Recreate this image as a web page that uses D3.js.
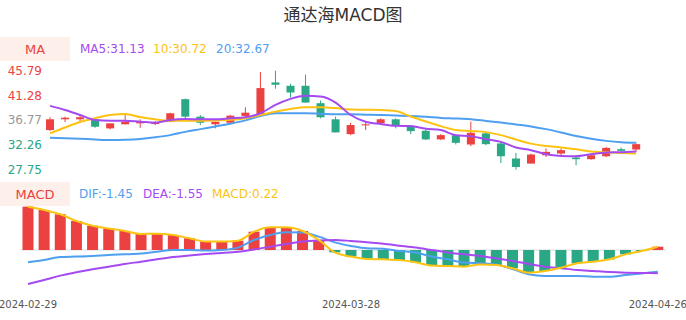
<!DOCTYPE html>
<html>
<head>
<meta charset="utf-8">
<script src="https://cdn.jsdelivr.net/npm/d3@7"></script>
<style>
  body { margin: 0; background: #fff; }
  svg { display: block; font-family: "DejaVu Sans", "Noto Sans CJK SC", sans-serif; }
</style>
</head>
<body>
<svg id="chart"></svg>
<script>
// chart size
const W = 686, H = 320;

// trading days
const dates = ["2024-02-29","2024-03-01","2024-03-04","2024-03-05","2024-03-06","2024-03-07","2024-03-08",
  "2024-03-11","2024-03-12","2024-03-13","2024-03-14","2024-03-15","2024-03-18","2024-03-19","2024-03-20",
  "2024-03-21","2024-03-22","2024-03-25","2024-03-26","2024-03-27","2024-03-28","2024-03-29","2024-04-01",
  "2024-04-02","2024-04-03","2024-04-08","2024-04-09","2024-04-10","2024-04-11","2024-04-12","2024-04-15",
  "2024-04-16","2024-04-17","2024-04-18","2024-04-19","2024-04-22","2024-04-23","2024-04-24","2024-04-25","2024-04-26"];

// candles
const open  = [34.93,36.90,36.90,36.90,35.24,35.98,36.16,36.03,36.46,40.58,37.38,35.98,36.27,37.51,37.87,43.64,43.03,43.03,39.84,36.90,
               34.19,35.79,36.16,36.90,35.67,34.80,33.22,34.00,32.29,34.32,32.48,29.72,28.80,30.32,30.63,29.90,29.60,30.14,31.43,31.37];
const close = [36.90,37.19,37.27,35.54,36.16,36.46,36.59,36.35,38.00,37.38,36.27,36.46,37.56,38.11,42.61,43.22,41.80,39.96,37.27,34.50,
               35.85,35.98,36.90,35.67,34.74,33.22,34.00,32.59,34.43,32.35,30.14,28.17,30.45,30.94,31.25,29.60,30.32,31.67,31.13,32.35];
const high  = [37.27,37.38,37.82,36.90,36.16,37.82,36.90,36.59,38.10,40.69,37.69,36.46,37.69,39.10,45.55,45.79,43.40,45.06,40.33,37.38,
               36.27,36.46,37.08,37.08,35.85,35.00,34.19,34.13,36.46,34.43,32.77,30.75,30.63,31.56,31.56,30.32,30.50,31.85,31.73,32.48];
const low   = [34.74,36.40,36.40,35.35,35.06,35.98,35.35,35.85,36.35,37.08,35.85,35.24,36.16,37.38,37.87,42.50,40.88,39.96,37.08,34.50,
               33.99,34.93,36.03,35.24,34.19,33.10,33.10,32.29,31.98,32.16,28.90,27.69,28.80,30.00,30.20,28.48,29.50,30.00,30.87,31.00];

// moving averages
const ma5  = [39.35,38.61,37.69,36.77,36.65,36.65,36.46,36.27,36.77,36.95,36.90,36.90,37.08,37.27,38.00,39.53,40.64,41.19,41.06,39.96,
              37.69,36.46,36.03,35.72,35.67,35.17,34.93,34.00,33.82,33.27,32.77,31.74,31.25,30.51,30.20,30.14,30.51,30.82,30.88,31.00];
const ma10 = [34.32,35.40,36.40,37.10,37.70,37.87,37.30,36.90,36.65,36.65,36.65,36.70,36.80,37.10,37.69,38.30,38.80,39.10,39.10,38.95,
              38.70,38.65,38.60,38.40,37.40,36.50,35.65,34.95,34.75,34.55,34.00,33.20,32.45,32.00,31.75,31.40,31.00,30.85,30.75,30.64];
const ma20 = [33.51,33.45,33.35,33.20,33.10,33.15,33.30,33.60,34.00,34.60,35.10,35.60,36.10,36.70,37.50,38.00,38.00,38.00,37.90,37.80,
              37.80,37.75,37.70,37.60,37.50,37.35,37.15,37.05,36.90,36.60,36.30,35.95,35.60,35.10,34.50,33.85,33.35,32.95,32.70,32.60];

// MACD
const dif  = [-0.82,-0.67,-0.47,-0.44,-0.40,-0.33,-0.29,-0.24,-0.11,0.00,0.00,-0.04,0.00,0.16,0.67,1.00,1.18,1.16,0.89,0.51,
              0.27,0.11,0.08,-0.07,-0.16,-0.44,-0.62,-0.84,-0.89,-0.96,-1.27,-1.62,-1.73,-1.73,-1.73,-1.78,-1.78,-1.67,-1.56,-1.45];
const dea  = [-2.27,-2.00,-1.71,-1.49,-1.29,-1.11,-0.93,-0.78,-0.62,-0.47,-0.36,-0.27,-0.20,-0.11,0.04,0.22,0.40,0.56,0.64,0.67,
              0.60,0.51,0.42,0.29,0.16,0.00,-0.16,-0.29,-0.40,-0.56,-0.73,-0.93,-1.11,-1.22,-1.33,-1.40,-1.47,-1.51,-1.53,-1.55];
const macd = [2.89,2.67,2.38,1.93,1.62,1.44,1.27,1.07,1.09,1.00,0.78,0.56,0.56,0.62,1.22,1.51,1.51,1.27,0.67,-0.16,
              -0.44,-0.60,-0.62,-0.67,-0.82,-1.04,-1.07,-1.11,-0.96,-1.00,-1.22,-1.51,-1.40,-1.18,-0.89,-0.78,-0.62,-0.29,-0.07,0.22];

// y-axis ticks of the price panel
const priceTicks = [45.79, 41.28, 36.77, 32.26, 27.75];
const tickColors = ["#ec4141", "#ec4141", "#999999", "#2aa784", "#2aa784"];
const axisDates = ["2024-02-29", "2024-03-28", "2024-04-26"];

const RED = "#ec4141", GREEN = "#2aa784", PURPLE = "#a54af1", YELLOW = "#fcc312", BLUE = "#4f9ff0";

const svg = d3.select("#chart").attr("width", W).attr("height", H);
const idx = d3.range(dates.length);

// title
svg.append("text")
  .attr("x", W / 2).attr("y", 15).attr("dy", "0.35em")
  .attr("text-anchor", "middle")
  .attr("font-size", 17).attr("fill", "#333")
  .text("通达海MACD图");

// legend header helper
function header(y, label, items) {
  svg.append("rect").attr("x", 0).attr("y", y).attr("width", 70).attr("height", 24).attr("fill", "#fdf0ea");
  svg.append("text").attr("x", 35).attr("y", y + 12).attr("dy", "0.35em")
    .attr("text-anchor", "middle").attr("font-size", 13).attr("fill", RED).text(label);
  items.forEach(it => {
    svg.append("text").attr("x", it.x).attr("y", y + 12).attr("dy", "0.35em")
      .attr("font-size", 12).attr("fill", it.c).text(it.t);
  });
}

header(37, "MA", [
  { x: 80, t: "MA5:31.13", c: PURPLE },
  { x: 153, t: "10:30.72", c: YELLOW },
  { x: 216, t: "20:32.67", c: BLUE }
]);
header(182, "MACD", [
  { x: 79, t: "DIF:-1.45", c: BLUE },
  { x: 143, t: "DEA:-1.55", c: PURPLE },
  { x: 212, t: "MACD:0.22", c: YELLOW }
]);

// ---------- price panel ----------
const x1 = d3.scaleBand().domain(idx).range([42.5, 643.7]);
const y1 = d3.scaleLinear().domain([27.75, 45.79]).range([169.3, 70.7]);

const yAxis = svg.append("g")
  .attr("transform", "translate(42,0)")
  .call(d3.axisLeft(y1).tickValues(priceTicks).tickSize(0).tickPadding(0).tickFormat(d3.format(".2f")));
yAxis.select(".domain").remove();
yAxis.selectAll("text")
  .attr("font-size", 12)
  .attr("font-family", "DejaVu Sans, sans-serif")
  .attr("fill", (d, i) => tickColors[i]);

const bodyW = 8;
const cx1 = i => x1(i) + x1.bandwidth() / 2;
const col = i => close[i] >= open[i] ? RED : GREEN;

const candles = svg.append("g");
candles.selectAll("line.wick").data(idx).enter().append("line")
  .attr("x1", cx1).attr("x2", cx1)
  .attr("y1", i => y1(high[i])).attr("y2", i => y1(low[i]))
  .attr("stroke", col).attr("stroke-width", 1);
candles.selectAll("rect.body").data(idx).enter().append("rect")
  .attr("x", i => cx1(i) - bodyW / 2)
  .attr("y", i => y1(Math.max(open[i], close[i])))
  .attr("width", bodyW)
  .attr("height", i => Math.max(1, Math.abs(y1(open[i]) - y1(close[i]))))
  .attr("fill", col);

function drawLine(xs, ys, vals, color) {
  svg.append("path").datum(idx)
    .attr("fill", "none").attr("stroke", color).attr("stroke-width", 2)
    .attr("d", d3.line().x(xs).y(i => ys(vals[i])).curve(d3.curveMonotoneX));
}
drawLine(cx1, y1, ma20, BLUE);
drawLine(cx1, y1, ma10, YELLOW);
drawLine(cx1, y1, ma5, PURPLE);

// ---------- MACD panel ----------
const x2 = d3.scaleBand().domain(idx).range([19.9, 665.9]);
const y2 = d3.scaleLinear().domain([-2.4, 3.0]).range([286, 205]);
const cx2 = i => x2(i) + x2.bandwidth() / 2;
const barW = 11;

svg.append("line")
  .attr("x1", 20).attr("x2", 666)
  .attr("y1", y2(0)).attr("y2", y2(0))
  .attr("stroke", "#ddd").attr("stroke-width", 1);

svg.append("g").selectAll("rect").data(idx).enter().append("rect")
  .attr("x", i => cx2(i) - barW / 2)
  .attr("y", i => y2(Math.max(0, macd[i])))
  .attr("width", barW)
  .attr("height", i => Math.abs(y2(macd[i]) - y2(0)))
  .attr("fill", i => macd[i] >= 0 ? RED : GREEN);

drawLine(cx2, y2, dif, BLUE);
drawLine(cx2, y2, dea, PURPLE);
drawLine(cx2, y2, macd, YELLOW);

// x axis labels
const xAxis = svg.append("g")
  .attr("transform", "translate(0,301)")
  .call(d3.axisBottom(x2)
    .tickValues(axisDates.map(d => dates.indexOf(d)))
    .tickFormat(i => dates[i])
    .tickSize(0).tickPadding(0));
xAxis.select(".domain").remove();
xAxis.selectAll("text")
  .attr("font-size", 10)
  .attr("font-family", "DejaVu Sans, sans-serif")
  .attr("fill", "#555");
</script>
</body>
</html>
